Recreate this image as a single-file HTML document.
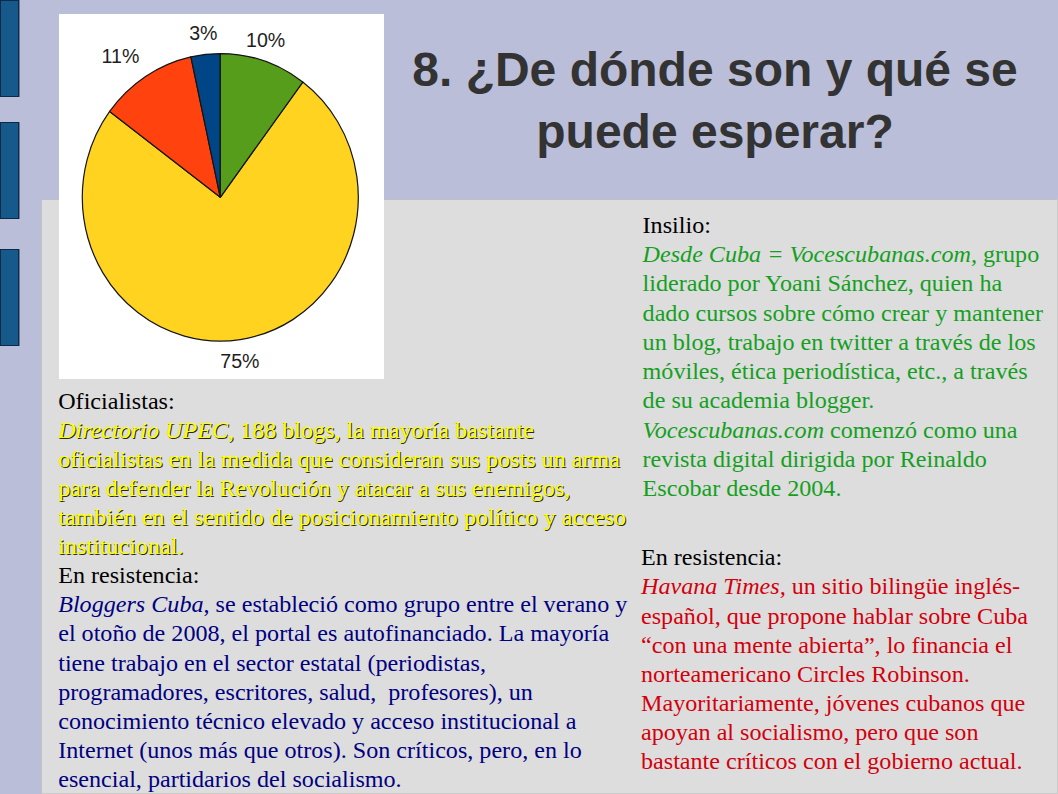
<!DOCTYPE html>
<html lang="es">
<head>
<meta charset="utf-8">
<title>8. ¿De dónde son y qué se puede esperar?</title>
<style>
html, body { margin: 0; padding: 0; }
body { width: 1058px; height: 794px; position: relative; overflow: hidden; background: #bbbed9; }
.bar { position: absolute; left: 0px; width: 17px; height: 95px; background: #155a8a; border: 1px solid #0b2a48; box-shadow: 1px 0 0 rgba(20,40,70,0.45); }
#panel { position: absolute; left: 41px; top: 199px; width: 1015px; height: 593px; background: #dddddd; border: 1px solid #c0c1c8; border-right-color: #cbcbcb; border-bottom-color: #cbcbcb; }
#chart { position: absolute; left: 59px; top: 14px; width: 325px; height: 365px; background: #fff; }
#chart svg { position: absolute; left: 0; top: 0; }
.title { position: absolute; left: 365px; width: 700px; text-align: center; font-family: "Liberation Sans", sans-serif; font-weight: bold; font-size: 48px; color: #333; white-space: nowrap; line-height: 62px; }
.txt { position: absolute; font-family: "Liberation Serif", serif; font-size: 24.12px; line-height: 29.1px; white-space: nowrap; }
.k { color: #000; }
.y { color: #ffff00; text-shadow: 1px 1px 0 #2a2a00; }
.n { color: #000080; }
.g { color: #14a01e; }
.r { color: #d2000c; }
i { font-style: italic; }
</style>
</head>
<body>
<div class="bar" style="top:0px"></div>
<div class="bar" style="top:122px"></div>
<div class="bar" style="top:249px"></div>
<div id="panel"></div>
<div id="chart">
<svg width="325" height="365" viewBox="0 0 325 365">
  <g transform="translate(161.3,183.3) scale(1,1.0418)" stroke="#141414" stroke-width="1.2" stroke-linejoin="round">
    <path id="s-yellow" fill="#ffd320" d="M0,0 L82.47,-110.65 A138.0,138.0 0 1 1 -110.65,-82.47 Z"/>
    <path id="s-red" fill="#ff420e" d="M0,0 L-110.65,-82.47 A138.0,138.0 0 0 1 -29.40,-134.83 Z"/>
    <path id="s-blue" fill="#004586" d="M0,0 L-29.40,-134.83 A138.0,138.0 0 0 1 -0.00,-138.00 Z"/>
    <path id="s-green" fill="#579d1c" d="M0,0 L0.00,-138.00 A138.0,138.0 0 0 1 82.47,-110.65 Z"/>
  </g>
  <g font-family="Liberation Sans, sans-serif" font-size="19.6" fill="#1e1e1e" text-anchor="middle">
    <text x="144.3" y="25.6">3%</text>
    <text x="206.6" y="32.9">10%</text>
    <text x="61.5" y="48.7">11%</text>
    <text x="180.9" y="354.4">75%</text>
  </g>
</svg>
</div>
<div class="title" style="top:39px">8. ¿De dónde son y qué se</div>
<div class="title" style="top:101px">puede esperar?</div>

<div class="txt" style="left:58.2px;top:387.1px;line-height:29.05px">
<span class="k">Oficialistas:</span><br>
<span class="y"><i>Directorio UPEC,</i> 188 blogs, la mayoría bastante</span><br>
<span class="y">oficialistas en la medida que consideran sus posts un arma</span><br>
<span class="y">para defender la Revolución y atacar a sus enemigos,</span><br>
<span class="y">también en el sentido de posicionamiento político y acceso</span><br>
<span class="y">institucional.</span><br>
<span class="k">En resistencia:</span><br>
<span class="n"><i>Bloggers Cuba</i>, se estableció como grupo entre el verano y</span><br>
<span class="n">el otoño de 2008, el portal es autofinanciado. La mayoría</span><br>
<span class="n">tiene trabajo en el sector estatal (periodistas,</span><br>
<span class="n">programadores, escritores, salud,&nbsp; profesores), un</span><br>
<span class="n">conocimiento técnico elevado y acceso institucional a</span><br>
<span class="n">Internet (unos más que otros). Son críticos, pero, en lo</span><br>
<span class="n">esencial, partidarios del socialismo.</span>
</div>

<div class="txt" style="left:642.6px;top:210.9px;line-height:29.23px">
<span class="k">Insilio:</span><br>
<span class="g"><i>Desde Cuba = Vocescubanas.com,</i> grupo</span><br>
<span class="g">liderado por Yoani Sánchez, quien ha</span><br>
<span class="g">dado cursos sobre cómo crear y mantener</span><br>
<span class="g">un blog, trabajo en twitter a través de los</span><br>
<span class="g">móviles, ética periodística, etc., a través</span><br>
<span class="g">de su academia blogger.</span><br>
<span class="g"><i>Vocescubanas.com</i> comenzó como una</span><br>
<span class="g">revista digital dirigida por Reinaldo</span><br>
<span class="g">Escobar desde 2004.</span>
</div>

<div class="txt" style="left:641px;top:543.2px;line-height:29.17px">
<span class="k">En resistencia:</span><br>
<span class="r"><i>Havana Times,</i> un sitio bilingüe inglés-</span><br>
<span class="r">español, que propone hablar sobre Cuba</span><br>
<span class="r">“con una mente abierta”, lo financia el</span><br>
<span class="r">norteamericano Circles Robinson.</span><br>
<span class="r">Mayoritariamente, jóvenes cubanos que</span><br>
<span class="r">apoyan al socialismo, pero que son</span><br>
<span class="r">bastante críticos con el gobierno actual.</span>
</div>
</body>
</html>
